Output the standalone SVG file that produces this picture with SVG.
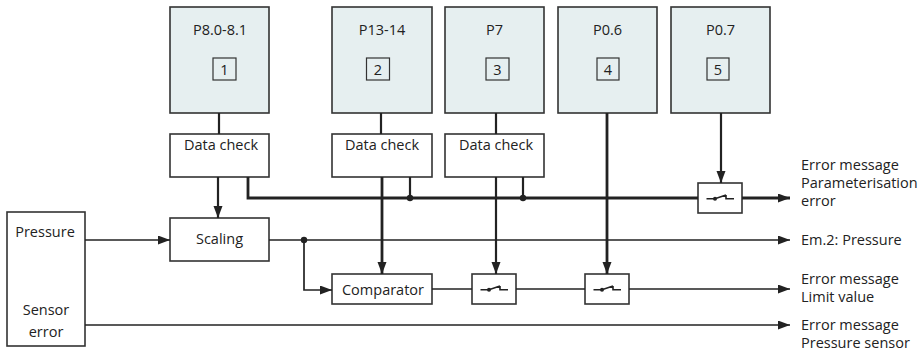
<svg xmlns="http://www.w3.org/2000/svg" width="924" height="352" viewBox="0 0 924 352">
  <style>
    text { font-family: "Open Sans", "Liberation Sans", sans-serif; font-size: 14.5px; fill: #222; }
    .c { text-anchor: middle; }
    .param { fill: #e6eff0; stroke: #333; stroke-width: 1.6; }
    .box { fill: #fff; stroke: #333; stroke-width: 1.6; }
    .num { fill: none; stroke: #333; stroke-width: 1.2; }
    .thin { fill: none; stroke: #222; stroke-width: 1.7; }
    .mid { fill: none; stroke: #222; stroke-width: 2.2; }
    .thick { fill: none; stroke: #222; stroke-width: 2.8; }
    .arr { marker-end: url(#head); }
    .dot { fill: #222; }
    .sw { fill: none; stroke: #222; stroke-width: 1.6; }
  </style>
  <defs>
    <marker id="head" markerUnits="userSpaceOnUse" markerWidth="13" markerHeight="10" refX="12" refY="4.5" orient="auto">
      <path d="M0,0 L12,4.5 L0,9 z" fill="#222"/>
    </marker>
    <!-- switch glyph drawn inside a 44x30 box, origin at box top-left -->
    <g id="switch">
      <rect class="box" x="0" y="0" width="44" height="30"/>
      <path class="sw" d="M8.5,15.7 H17 L28,12 M28,12 V15.7 H36"/>
      <circle class="dot" cx="17" cy="15.7" r="2"/>
    </g>
  </defs>

  <!-- parameter blocks -->
  <g id="p1">
    <rect class="param" x="170" y="7" width="99" height="106"/>
    <text class="c" x="220" y="35">P8.0-8.1</text>
    <rect class="num" x="213" y="58" width="23" height="22"/>
    <text class="c" x="224.5" y="75">1</text>
  </g>
  <g id="p2">
    <rect class="param" x="332" y="7" width="100" height="106"/>
    <text class="c" x="382" y="35">P13-14</text>
    <rect class="num" x="366.5" y="58" width="23" height="22"/>
    <text class="c" x="378" y="75">2</text>
  </g>
  <g id="p3">
    <rect class="param" x="445" y="7" width="99" height="106"/>
    <text class="c" x="494.5" y="35">P7</text>
    <rect class="num" x="486" y="58" width="23" height="22"/>
    <text class="c" x="497.5" y="75">3</text>
  </g>
  <g id="p4">
    <rect class="param" x="558" y="7" width="99" height="106"/>
    <text class="c" x="607.5" y="35">P0.6</text>
    <rect class="num" x="597" y="58" width="22" height="22"/>
    <text class="c" x="608" y="75">4</text>
  </g>
  <g id="p5">
    <rect class="param" x="671" y="7" width="99" height="106"/>
    <text class="c" x="720.5" y="35">P0.7</text>
    <rect class="num" x="707" y="58" width="22" height="22"/>
    <text class="c" x="718" y="75">5</text>
  </g>

  <!-- data checks -->
  <g id="check1">
    <rect class="box" x="170" y="134" width="99" height="43"/>
    <text class="c" x="221" y="150">Data check</text>
  </g>
  <g id="check2">
    <rect class="box" x="332" y="134" width="100" height="43"/>
    <text class="c" x="382" y="150">Data check</text>
  </g>
  <g id="check3">
    <rect class="box" x="445" y="134" width="99" height="43"/>
    <text class="c" x="496" y="150">Data check</text>
  </g>

  <!-- sensor input -->
  <g id="sensor">
    <rect class="box" x="7" y="212" width="78" height="134"/>
    <text class="c" x="45" y="237">Pressure</text>
    <text class="c" x="46" y="315">Sensor</text>
    <text class="c" x="46" y="337">error</text>
  </g>

  <g id="scaling">
    <rect class="box" x="170" y="218" width="99" height="43"/>
    <text class="c" x="219.5" y="244">Scaling</text>
  </g>

  <g id="comparator">
    <rect class="box" x="332" y="274" width="100" height="30"/>
    <text class="c" x="383" y="295">Comparator</text>
  </g>

  <g id="switch1"><use href="#switch" x="472" y="274"/></g>
  <g id="switch2"><use href="#switch" x="585" y="274"/></g>
  <g id="switch3"><use href="#switch" x="698" y="183"/></g>

  <!-- connectors -->
  <g id="connectors">
    <path class="mid" d="M219,113 V134"/>
    <path class="mid" d="M381,113 V134"/>
    <path class="mid" d="M496,113 V134"/>

    <path class="mid arr" d="M218,177 V218"/>
    <path class="thick" d="M248,177 V198 H698"/>
    <path class="mid" d="M410,177 V198"/>
    <path class="mid" d="M523,177 V198"/>
    <circle class="dot" cx="410" cy="198" r="3.2"/>
    <circle class="dot" cx="523" cy="198" r="3.2"/>
    <path class="thick arr" d="M742,198 H790"/>

    <path class="thick arr" d="M382,177 V274"/>
    <path class="mid arr" d="M496,177 V274"/>
    <path class="thick arr" d="M607,113 V274"/>
    <path class="mid arr" d="M721,113 V183"/>

    <path class="thin arr" d="M85,240 H170"/>
    <path class="thin arr" d="M269,240 H790"/>
    <circle class="dot" cx="304" cy="240" r="3.2"/>
    <path class="thin arr" d="M304,240 V290 H332"/>

    <path class="thin" d="M432,289 H472"/>
    <path class="thin" d="M516,289 H585"/>
    <path class="thin arr" d="M629,289 H790"/>

    <path class="thin arr" d="M85,325 H790"/>
  </g>

  <!-- outputs -->
  <g id="outputs">
    <text x="801" y="170">Error message</text>
    <text x="801" y="188">Parameterisation</text>
    <text x="801" y="206">error</text>
    <text x="801" y="245">Em.2: Pressure</text>
    <text x="801" y="284">Error message</text>
    <text x="801" y="302">Limit value</text>
    <text x="801" y="330">Error message</text>
    <text x="801" y="348">Pressure sensor</text>
  </g>
</svg>
